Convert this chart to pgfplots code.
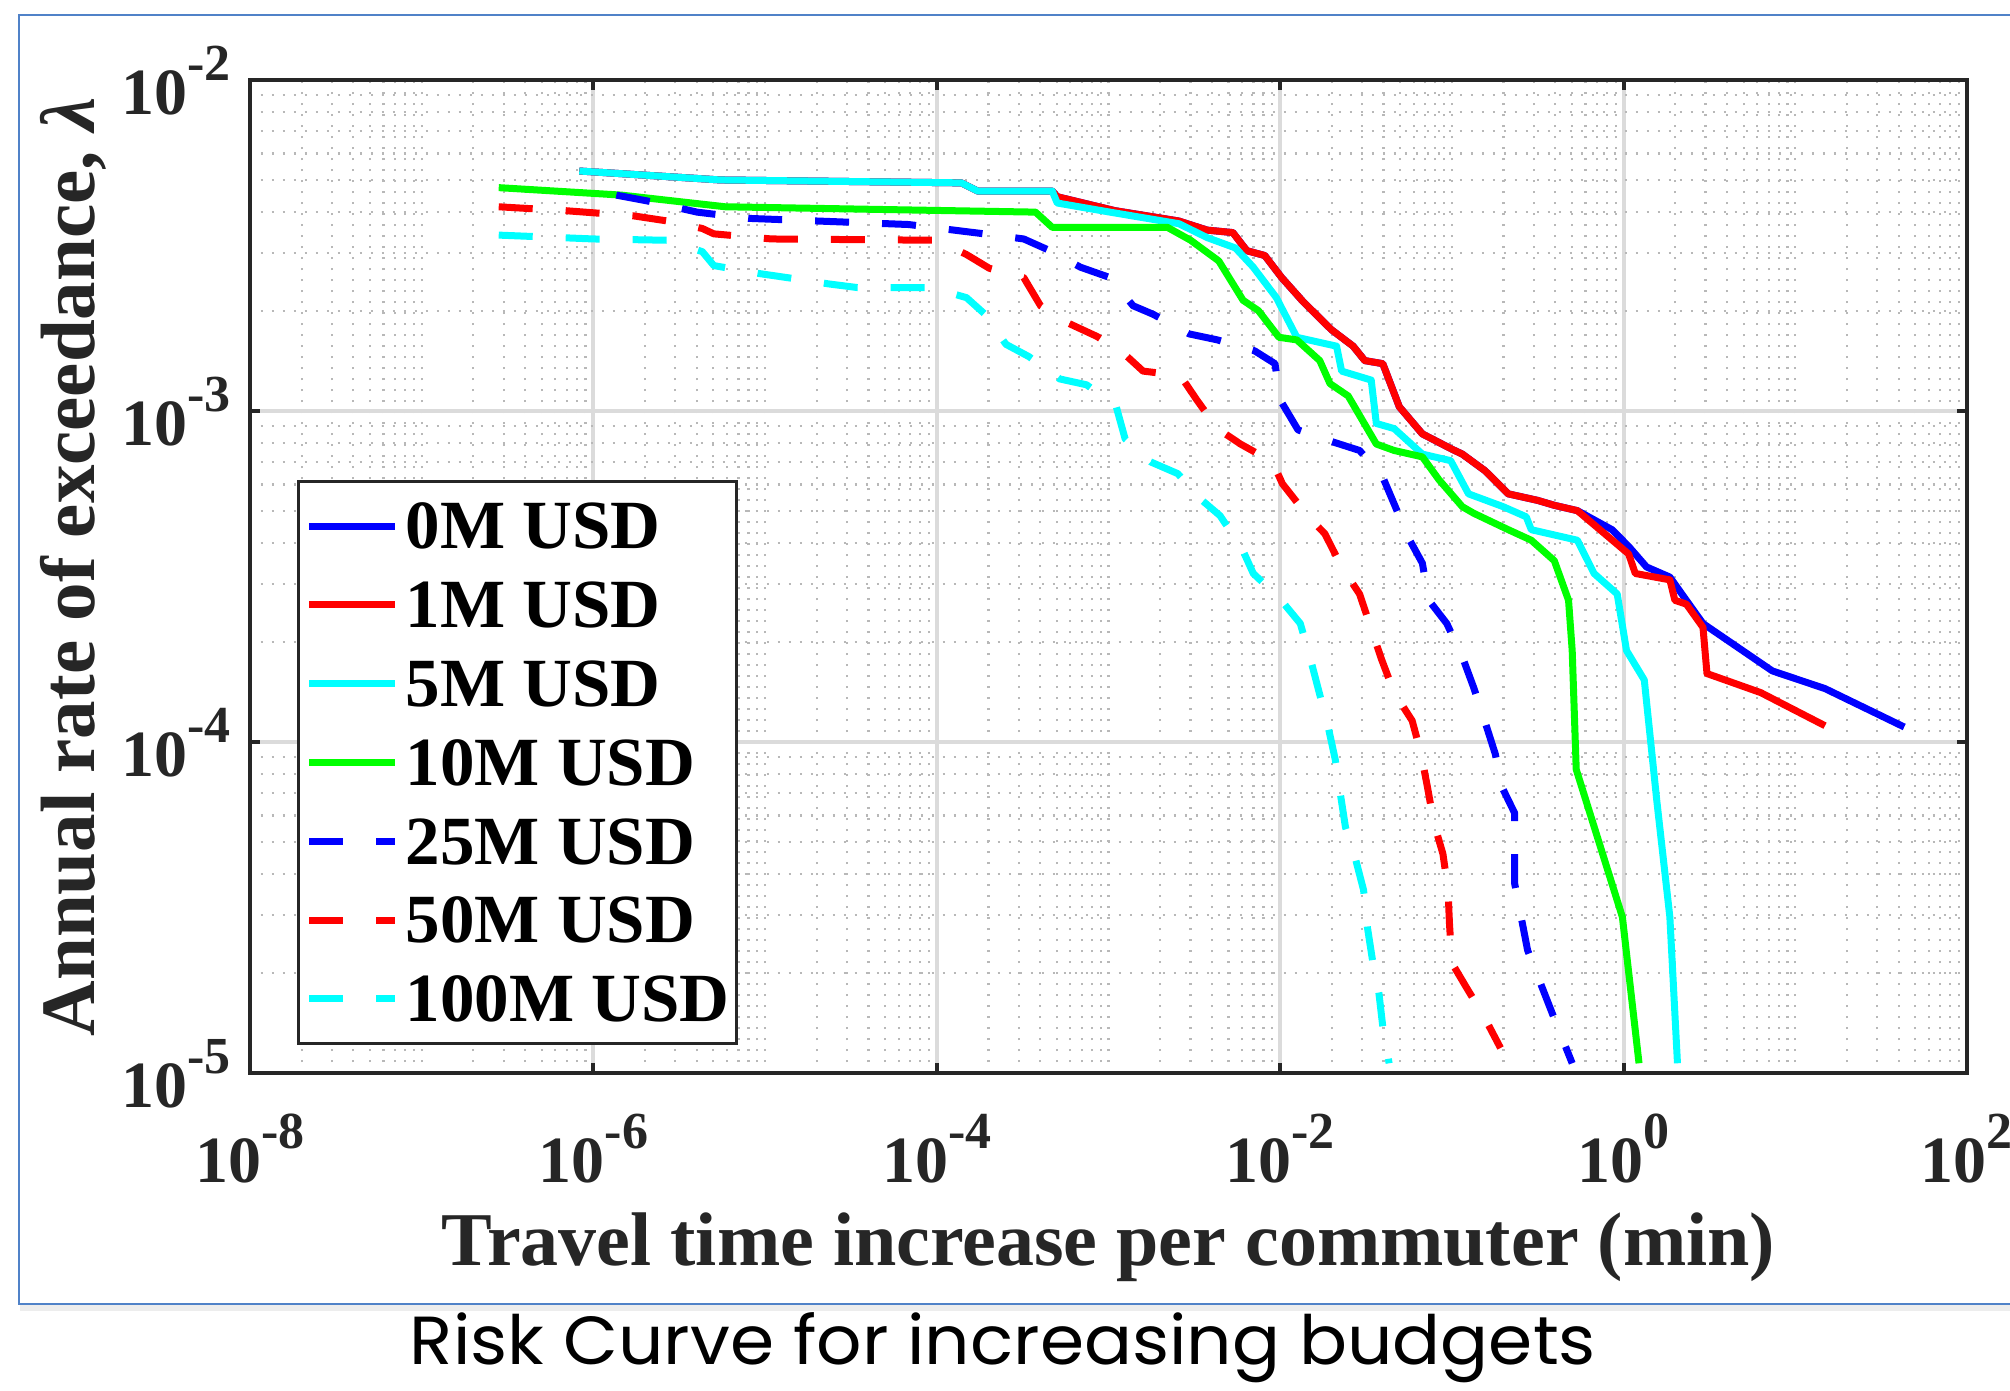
\documentclass[border=0pt]{standalone}
\usepackage{fontspec}
\setmainfont{Liberation Serif}
\newfontfamily\capfont{Poppins}
\usepackage{graphicx}
\usepackage{pgfplots}
\pgfplotsset{compat=1.18}

\newcommand{\tl}[1]{10\raisebox{17pt}{\fontsize{26}{26}\selectfont #1}}
\definecolor{axgray}{RGB}{38,38,38}
\definecolor{frameblue}{RGB}{80,130,200}
\definecolor{mblue}{RGB}{0,0,255}
\definecolor{mred}{RGB}{255,0,0}
\definecolor{mcyan}{RGB}{0,255,255}
\definecolor{mgreen}{RGB}{0,255,0}

\begin{document}
\begin{tikzpicture}
\useasboundingbox (0,0) rectangle (1005pt,695.5pt);
\fill[white] (0,0) rectangle (1005pt,695.5pt);
\fill[black!7] (10pt,40pt) rectangle (1012pt,43.5pt);
\draw[frameblue, line width=1.3pt] (9.5pt,43.5pt) rectangle (1012pt,688pt);
\node[anchor=base, inner sep=0pt] at (501.5pt,13pt) {\resizebox{593pt}{\height}{\fontsize{34}{34}\selectfont\capfont Risk Curve for increasing budgets}};

\begin{axis}[
  at={(125pt,159pt)}, anchor=south west, scale only axis,
  width=858.5pt, height=496.5pt,
  xmode=log, ymode=log,
  xmin=1e-8, xmax=1e2, ymin=1e-5, ymax=1e-2,
  xtick={1e-8,1e-6,1e-4,1e-2,1,1e2},
  xticklabels={\tl{-8},\tl{-6},\tl{-4},\tl{-2},\tl{0},\tl{2}},
  ytick={1e-5,1e-4,1e-3,1e-2},
  yticklabels={\tl{-5},\tl{-4},\tl{-3},\tl{-2}},
  minor xtick={2e-8,3e-8,4e-8,5e-8,6e-8,7e-8,8e-8,9e-8,
    1e-7,2e-7,3e-7,4e-7,5e-7,6e-7,7e-7,8e-7,9e-7,
    2e-6,3e-6,4e-6,5e-6,6e-6,7e-6,8e-6,9e-6,
    1e-5,2e-5,3e-5,4e-5,5e-5,6e-5,7e-5,8e-5,9e-5,
    2e-4,3e-4,4e-4,5e-4,6e-4,7e-4,8e-4,9e-4,
    1e-3,2e-3,3e-3,4e-3,5e-3,6e-3,7e-3,8e-3,9e-3,
    2e-2,3e-2,4e-2,5e-2,6e-2,7e-2,8e-2,9e-2,
    1e-1,2e-1,3e-1,4e-1,5e-1,6e-1,7e-1,8e-1,9e-1,
    2,3,4,5,6,7,8,9,
    10,20,30,40,50,60,70,80,90},
  minor ytick={2e-5,3e-5,4e-5,5e-5,6e-5,7e-5,8e-5,9e-5,
    2e-4,3e-4,4e-4,5e-4,6e-4,7e-4,8e-4,9e-4,
    2e-3,3e-3,4e-3,5e-3,6e-3,7e-3,8e-3,9e-3},
  grid=both,
  major grid style={line width=2pt, draw=black!14},
  minor grid style={line width=1.1pt, draw=black!28, dash pattern=on 1.1pt off 4.4pt},
  minor tick length=0pt,
  major tick length=5pt,
  tick align=inside,
  tick style={line width=2pt, draw=axgray},
  axis line style={line width=2pt, draw=axgray},
  xticklabel style={anchor=base, yshift=-54.5pt, inner sep=0pt, text=axgray, font=\fontsize{33}{33}\selectfont\bfseries},
  yticklabel style={anchor=base east, xshift=-9.5pt, yshift=-17pt, inner sep=0pt, text=axgray, font=\fontsize{33}{33}\selectfont\bfseries},
  xlabel={Travel time increase per commuter (min)},
  xlabel style={at={(axis description cs:0.5,0)}, anchor=base, yshift=-96pt, inner sep=0pt, text=axgray, font=\fontsize{38}{38}\selectfont\bfseries},
  ylabel={Annual rate of exceedance, {\itshape λ}},
  ylabel style={at={(axis description cs:-0.0905,0.5096)}, anchor=base, inner sep=0pt, text=axgray, font=\fontsize{38.5}{38.5}\selectfont\bfseries},
  legend cell align=left,
  legend image code/.code={\draw[#1] (0pt,0pt) -- (43pt,0pt);},
  legend style={at={(axis description cs:0.02737,0.5972)}, anchor=north west,
    draw=axgray, line width=1.7pt, fill=white,
    font=\fontsize{34.5}{34.5}\selectfont\bfseries,
    inner xsep=3.5pt, inner ysep=2.5pt, row sep=0pt,
    nodes={inner sep=0pt, text height=31.1pt, text depth=8.3pt},
    /tikz/every odd column/.append style={column sep=3.5pt}},
]
% 0M USD
\addplot[mblue, line width=3.5pt, line join=round] coordinates {
(8.28e-7,5.31e-3) (5.48e-6,4.99e-3) (1.39e-4,4.89e-3) (1.73e-4,4.62e-3) (4.70e-4,4.62e-3)
(5.03e-4,4.44e-3) (1.09e-3,4.03e-3) (2.57e-3,3.75e-3) (3.76e-3,3.52e-3) (5.30e-3,3.46e-3)
(6.40e-3,3.05e-3) (8.13e-3,2.95e-3) (1.02e-2,2.53e-3) (1.36e-2,2.14e-3) (1.99e-2,1.76e-3)
(2.66e-2,1.57e-3) (3.11e-2,1.42e-3) (3.96e-2,1.39e-3) (4.94e-2,1.03e-3) (6.73e-2,8.53e-4)
(0.100,7.67e-4) (0.115,7.41e-4) (0.156,6.60e-4) (0.213,5.62e-4) (0.316,5.37e-4)
(0.395,5.19e-4) (0.538,5.00e-4) (0.857,4.38e-4) (1.07,3.90e-4) (1.36,3.38e-4)
(1.86,3.15e-4) (2.32,2.68e-4) (2.90,2.28e-4) (7.35,1.64e-4) (14.9,1.45e-4) (43.1,1.11e-4)};
\addlegendentry{0M USD}
% 1M USD
\addplot[mred, line width=3.5pt, line join=round] coordinates {
(8.28e-7,5.31e-3) (5.48e-6,4.99e-3) (1.39e-4,4.89e-3) (1.73e-4,4.62e-3) (4.70e-4,4.62e-3)
(5.03e-4,4.44e-3) (1.09e-3,4.03e-3) (2.57e-3,3.75e-3) (3.76e-3,3.52e-3) (5.30e-3,3.46e-3)
(6.40e-3,3.05e-3) (8.13e-3,2.95e-3) (1.02e-2,2.53e-3) (1.36e-2,2.14e-3) (1.99e-2,1.76e-3)
(2.66e-2,1.57e-3) (3.11e-2,1.42e-3) (3.96e-2,1.39e-3) (4.94e-2,1.03e-3) (6.73e-2,8.53e-4)
(0.100,7.67e-4) (0.115,7.41e-4) (0.156,6.60e-4) (0.213,5.62e-4) (0.316,5.37e-4)
(0.395,5.19e-4) (0.538,5.00e-4) (1.07,3.70e-4) (1.17,3.23e-4) (1.86,3.09e-4)
(1.99,2.68e-4) (2.32,2.61e-4) (2.90,2.22e-4) (3.06,1.61e-4) (6.29,1.41e-4) (14.9,1.12e-4)};
\addlegendentry{1M USD}
% 5M USD
\addplot[mcyan, line width=3.5pt, line join=round] coordinates {
(8.28e-7,5.31e-3) (5.48e-6,4.99e-3) (1.39e-4,4.89e-3) (1.73e-4,4.62e-3) (4.70e-4,4.62e-3)
(5.03e-4,4.25e-3) (1.02e-3,3.99e-3) (2.57e-3,3.68e-3) (3.76e-3,3.34e-3) (5.48e-3,3.11e-3)
(6.97e-3,2.72e-3) (9.50e-3,2.20e-3) (1.25e-2,1.67e-3) (2.13e-2,1.57e-3) (2.28e-2,1.32e-3)
(3.39e-2,1.24e-3) (3.63e-2,9.17e-4) (4.61e-2,8.85e-4) (6.73e-2,7.41e-4) (9.84e-2,7.08e-4)
(0.125,5.62e-4) (0.199,5.14e-4) (0.271,4.79e-4) (0.290,4.38e-4) (0.538,4.07e-4)
(0.673,3.23e-4) (0.918,2.80e-4) (1.04,1.89e-4) (1.32,1.54e-4) (1.56,6.67e-5)
(1.86,2.96e-5) (2.06,1.07e-5)};
\addlegendentry{5M USD}
% 10M USD
\addplot[mgreen, line width=3.5pt, line join=round] coordinates {
(2.81e-7,4.73e-3) (1.46e-6,4.49e-3) (5.87e-6,4.14e-3) (3.76e-4,3.99e-3) (4.70e-4,3.59e-3)
(2.20e-3,3.59e-3) (3.01e-3,3.28e-3) (4.39e-3,2.84e-3) (6.08e-3,2.16e-3) (7.47e-3,2.01e-3)
(9.84e-3,1.67e-3) (1.25e-2,1.64e-3) (1.70e-2,1.42e-3) (1.95e-2,1.21e-3) (2.49e-2,1.11e-3)
(3.63e-2,7.95e-4) (4.61e-2,7.60e-4) (6.73e-2,7.27e-4) (8.41e-2,6.20e-4) (0.115,5.14e-4)
(0.134,4.91e-4) (0.213,4.38e-4) (0.290,4.07e-4) (0.395,3.53e-4) (0.478,2.68e-4)
(0.502,1.89e-4) (0.530,8.26e-5) (0.984,2.96e-5) (1.23,1.07e-5)};
\addlegendentry{10M USD}
% 25M USD
\addplot[mblue, line width=3.5pt, line join=round, dash pattern=on 17pt off 16.5pt] coordinates {
(1.36e-6,4.49e-3) (2.17e-6,4.29e-3) (4.02e-6,3.99e-3) (8.00e-6,3.82e-3) (6.86e-5,3.66e-3)
(1.89e-4,3.43e-3) (3.21e-4,3.31e-3) (4.70e-4,3.03e-3) (6.86e-4,2.72e-3) (1.02e-3,2.53e-3)
(1.39e-3,2.08e-3) (1.82e-3,1.96e-3) (2.95e-3,1.71e-3) (4.31e-3,1.64e-3) (7.10e-3,1.52e-3)
(9.33e-3,1.39e-3) (1.00e-2,1.08e-3) (1.27e-2,8.77e-4) (1.99e-2,8.09e-4) (2.90e-2,7.60e-4)
(3.96e-2,6.31e-4) (4.61e-2,5.24e-4) (5.57e-2,4.15e-4) (6.73e-2,3.47e-4) (7.34e-2,2.68e-4)
(9.34e-2,2.28e-4) (0.115,1.81e-4) (0.134,1.46e-4) (0.156,1.15e-4) (0.179,9.20e-5)
(0.196,7.30e-5) (0.232,6.10e-5) (0.232,3.74e-5) (0.276,2.35e-5) (0.389,1.49e-5) (0.502,1.07e-5)};
\addlegendentry{25M USD}
% 50M USD
\addplot[mred, line width=3.5pt, line join=round, dash pattern=on 17pt off 16.5pt] coordinates {
(2.81e-7,4.14e-3) (6.86e-7,4.03e-3) (1.70e-6,3.89e-3) (2.71e-6,3.75e-3) (4.31e-6,3.56e-3)
(5.03e-6,3.43e-3) (1.09e-5,3.31e-3) (1.00e-4,3.28e-3) (1.49e-4,2.97e-3) (2.02e-4,2.70e-3)
(3.21e-4,2.53e-3) (4.02e-4,2.08e-3) (5.87e-4,1.84e-3) (8.57e-4,1.68e-3) (1.25e-3,1.48e-3)
(1.59e-3,1.32e-3) (2.62e-3,1.28e-3) (3.27e-3,1.08e-3) (4.31e-3,8.85e-4) (5.87e-3,7.95e-4)
(9.02e-3,7.02e-4) (1.03e-2,6.03e-4) (1.46e-2,4.79e-4) (1.82e-2,4.26e-4) (2.28e-2,3.38e-4)
(2.90e-2,2.80e-4) (3.39e-2,2.20e-4) (3.89e-2,1.78e-4) (4.61e-2,1.41e-4) (5.87e-2,1.16e-4)
(6.62e-2,9.20e-5) (7.21e-2,7.30e-5) (7.86e-2,5.69e-5) (8.87e-2,4.59e-5) (9.50e-2,3.57e-5)
(9.67e-2,2.86e-5) (0.100,2.15e-5) (0.121,1.82e-5) (0.154,1.48e-5) (0.192,1.19e-5)};
\addlegendentry{50M USD}
% 100M USD
\addplot[mcyan, line width=3.5pt, line join=round, dash pattern=on 17pt off 16.5pt] coordinates {
(2.81e-7,3.40e-3) (1.00e-6,3.31e-3) (2.71e-6,3.28e-3) (4.31e-6,3.03e-3) (5.03e-6,2.75e-3)
(9.33e-6,2.60e-3) (1.49e-5,2.51e-3) (2.36e-5,2.42e-3) (3.45e-5,2.36e-3) (9.33e-5,2.36e-3)
(1.49e-4,2.20e-3) (1.89e-4,1.97e-3) (2.53e-4,1.59e-3) (3.44e-4,1.46e-3) (5.20e-4,1.25e-3)
(7.46e-4,1.20e-3) (1.11e-3,1.03e-3) (1.25e-3,8.24e-4) (1.76e-3,7.02e-4) (2.53e-3,6.47e-4)
(3.51e-3,5.37e-4) (4.46e-3,4.83e-4) (5.97e-3,3.86e-4) (6.97e-3,3.23e-4) (9.84e-3,2.73e-4)
(1.31e-2,2.28e-4) (1.51e-2,1.76e-4) (1.67e-2,1.44e-4) (1.89e-2,1.13e-4) (2.09e-2,8.88e-5)
(2.24e-2,6.98e-5) (2.40e-2,5.53e-5) (2.76e-2,4.39e-5) (3.06e-2,3.57e-5) (3.22e-2,2.76e-5)
(3.45e-2,2.19e-5) (3.76e-2,1.74e-5) (3.96e-2,1.38e-5) (4.31e-2,1.07e-5)};
\addlegendentry{100M USD}
\end{axis}
\end{tikzpicture}
\end{document}
